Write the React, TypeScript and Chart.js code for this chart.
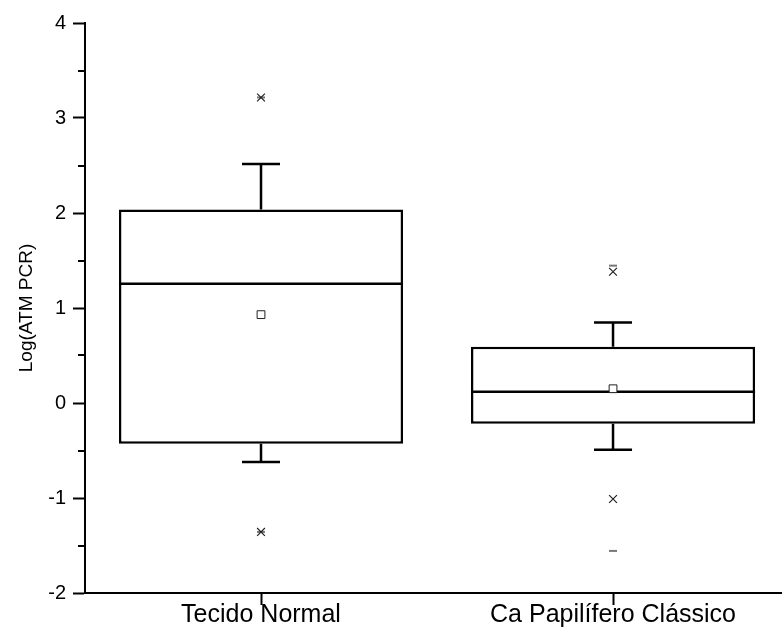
import React, { useEffect, useRef } from 'react';
import { Chart, registerables } from 'chart.js';

Chart.register(...registerables);

const categories = ['Tecido Normal', 'Ca Papilífero Clássico'];
const q1Values = [-0.43, -0.219];
const q3Values = [2.036, 0.592];
const medianValues = [1.256, 0.118];
const meanValues = [0.93, 0.15];
const whiskerLow = [-0.62, -0.493];
const whiskerHigh = [2.517, 0.848];
const p1Values = [-1.357, -1.01];
const p99Values = [3.216, 1.382];
const minValues = [-1.357, -1.557];
const maxValues = [3.216, 1.446];
const yTickValues = [-2, -1, 0, 1, 2, 3, 4];

const FONT = "'Liberation Sans', Arial, Helvetica, sans-serif";

const boxExtras = {
  id: 'boxExtras',
  afterDatasetDraw(chart: any, args: any) {
    if (args.index !== 0) return;
    const { ctx } = chart;
    const xs = chart.scales.x;
    const ys = chart.scales.y;
    ctx.save();
    ctx.strokeStyle = '#000';
    ctx.lineCap = 'butt';
    categories.forEach((_, i) => {
      const cx = xs.getPixelForValue(i + 1);
      const halfBox = xs.getPixelForValue(i + 1 + 0.4035) - cx;
      const halfCap = xs.getPixelForValue(i + 1 + 0.054) - cx;
      ctx.lineWidth = 2.5;
      const my = ys.getPixelForValue(medianValues[i]);
      ctx.beginPath();
      ctx.moveTo(cx - halfBox, my);
      ctx.lineTo(cx + halfBox, my);
      ctx.stroke();
      const yTop = ys.getPixelForValue(q3Values[i]);
      const yBot = ys.getPixelForValue(q1Values[i]);
      const wTop = ys.getPixelForValue(whiskerHigh[i]);
      const wBot = ys.getPixelForValue(whiskerLow[i]);
      ctx.beginPath();
      ctx.moveTo(cx, yTop);
      ctx.lineTo(cx, wTop);
      ctx.moveTo(cx - halfCap, wTop);
      ctx.lineTo(cx + halfCap, wTop);
      ctx.moveTo(cx, yBot);
      ctx.lineTo(cx, wBot);
      ctx.moveTo(cx - halfCap, wBot);
      ctx.lineTo(cx + halfCap, wBot);
      ctx.stroke();
    });
    ctx.restore();
  },
  afterDraw(chart: any) {
    const { ctx } = chart;
    const ys = chart.scales.y;
    const left = chart.chartArea.left;
    ctx.save();
    ctx.strokeStyle = '#000';
    ctx.lineWidth = 2;
    for (let k = 0; k < yTickValues.length - 1; k++) {
      const v = (yTickValues[k] + yTickValues[k + 1]) / 2;
      const y = Math.round(ys.getPixelForValue(v));
      ctx.beginPath();
      ctx.moveTo(left - 7, y);
      ctx.lineTo(left, y);
      ctx.stroke();
    }
    ctx.restore();
  },
};

export default function App() {
  const canvasRef = useRef<HTMLCanvasElement | null>(null);

  useEffect(() => {
    const canvas = canvasRef.current;
    if (!canvas) return;
    const idx = categories.map((_, i) => i + 1);
    const chart = new Chart(canvas, {
      type: 'bar',
      data: {
        datasets: [
          {
            type: 'bar',
            order: 10,
            data: idx.map((x, i) => ({ x, y: [q1Values[i], q3Values[i]] })) as any,
            backgroundColor: '#ffffff',
            borderColor: '#000000',
            borderWidth: 2.5,
            borderSkipped: false,
            barPercentage: 0.807,
            categoryPercentage: 1,
          } as any,
          {
            type: 'scatter',
            order: 0,
            data: idx.map((x, i) => ({ x, y: meanValues[i] })),
            pointStyle: 'rect',
            pointRadius: 5.5,
            backgroundColor: '#ffffff',
            borderColor: '#222222',
            borderWidth: 1,
          } as any,
          {
            type: 'scatter',
            order: 0,
            data: idx.map((x, i) => ({ x, y: p1Values[i] })),
            pointStyle: 'crossRot',
            pointRadius: 5.5,
            borderColor: '#222222',
            borderWidth: 1.2,
          } as any,
          {
            type: 'scatter',
            order: 0,
            data: idx.map((x, i) => ({ x, y: p99Values[i] })),
            pointStyle: 'crossRot',
            pointRadius: 5.5,
            borderColor: '#222222',
            borderWidth: 1.2,
          } as any,
          {
            type: 'scatter',
            order: 0,
            data: idx.map((x, i) => ({ x, y: minValues[i] })),
            pointStyle: 'line',
            pointRadius: 4,
            borderColor: '#777777',
            borderWidth: 2,
          } as any,
          {
            type: 'scatter',
            order: 0,
            data: idx.map((x, i) => ({ x, y: maxValues[i] })),
            pointStyle: 'line',
            pointRadius: 4,
            borderColor: '#777777',
            borderWidth: 2,
          } as any,
        ],
      },
      options: {
        responsive: false,
        animation: false,
        layout: { autoPadding: false, padding: { top: 23, left: 0, right: 0, bottom: 0 } },
        plugins: {
          legend: { display: false },
          tooltip: { enabled: false },
        },
        scales: {
          x: {
            type: 'linear',
            min: 0.5,
            max: 2.48,
            offset: false,
            afterBuildTicks: (scale: any) => {
              scale.ticks = idx.map((v) => ({ value: v }));
            },
            afterFit: (scale: any) => {
              scale.height = 43;
              scale.paddingRight = 0;
              scale.paddingLeft = 0;
            },
            ticks: {
              autoSkip: false,
              maxRotation: 0,
              minRotation: 0,
              padding: -5,
              color: '#000',
              font: { family: FONT, size: 25 },
              callback: (v: any) => categories[Number(v) - 1] ?? '',
            },
            grid: {
              display: true,
              offset: false,
              drawOnChartArea: false,
              drawTicks: true,
              tickLength: 12,
              tickWidth: 2,
              tickColor: '#000',
            },
            border: { display: true, color: '#000', width: 2 },
          },
          y: {
            type: 'linear',
            min: -2,
            max: 4,
            afterBuildTicks: (scale: any) => {
              scale.ticks = yTickValues.map((v) => ({ value: v }));
            },
            afterFit: (scale: any) => {
              scale.width = 85;
            },
            ticks: {
              padding: 7,
              color: '#000',
              font: { family: FONT, size: 20 },
              callback: (v: any) => String(v),
            },
            grid: {
              display: true,
              drawOnChartArea: false,
              drawTicks: true,
              tickLength: 12,
              tickWidth: 2,
              tickColor: '#000',
            },
            border: { display: true, color: '#000', width: 2 },
            title: {
              display: true,
              text: 'Log(ATM PCR)',
              color: '#000',
              font: { family: FONT, size: 19 },
              padding: { top: 15, bottom: 0 },
            },
          },
        },
      },
      plugins: [boxExtras],
    } as any);
    return () => chart.destroy();
  }, []);

  return (
    <div style={{ position: 'absolute', left: 0, top: 0, width: 782, height: 636, background: '#fff' }}>
      <canvas ref={canvasRef} width={782} height={636} style={{ display: 'block' }} />
    </div>
  );
}
